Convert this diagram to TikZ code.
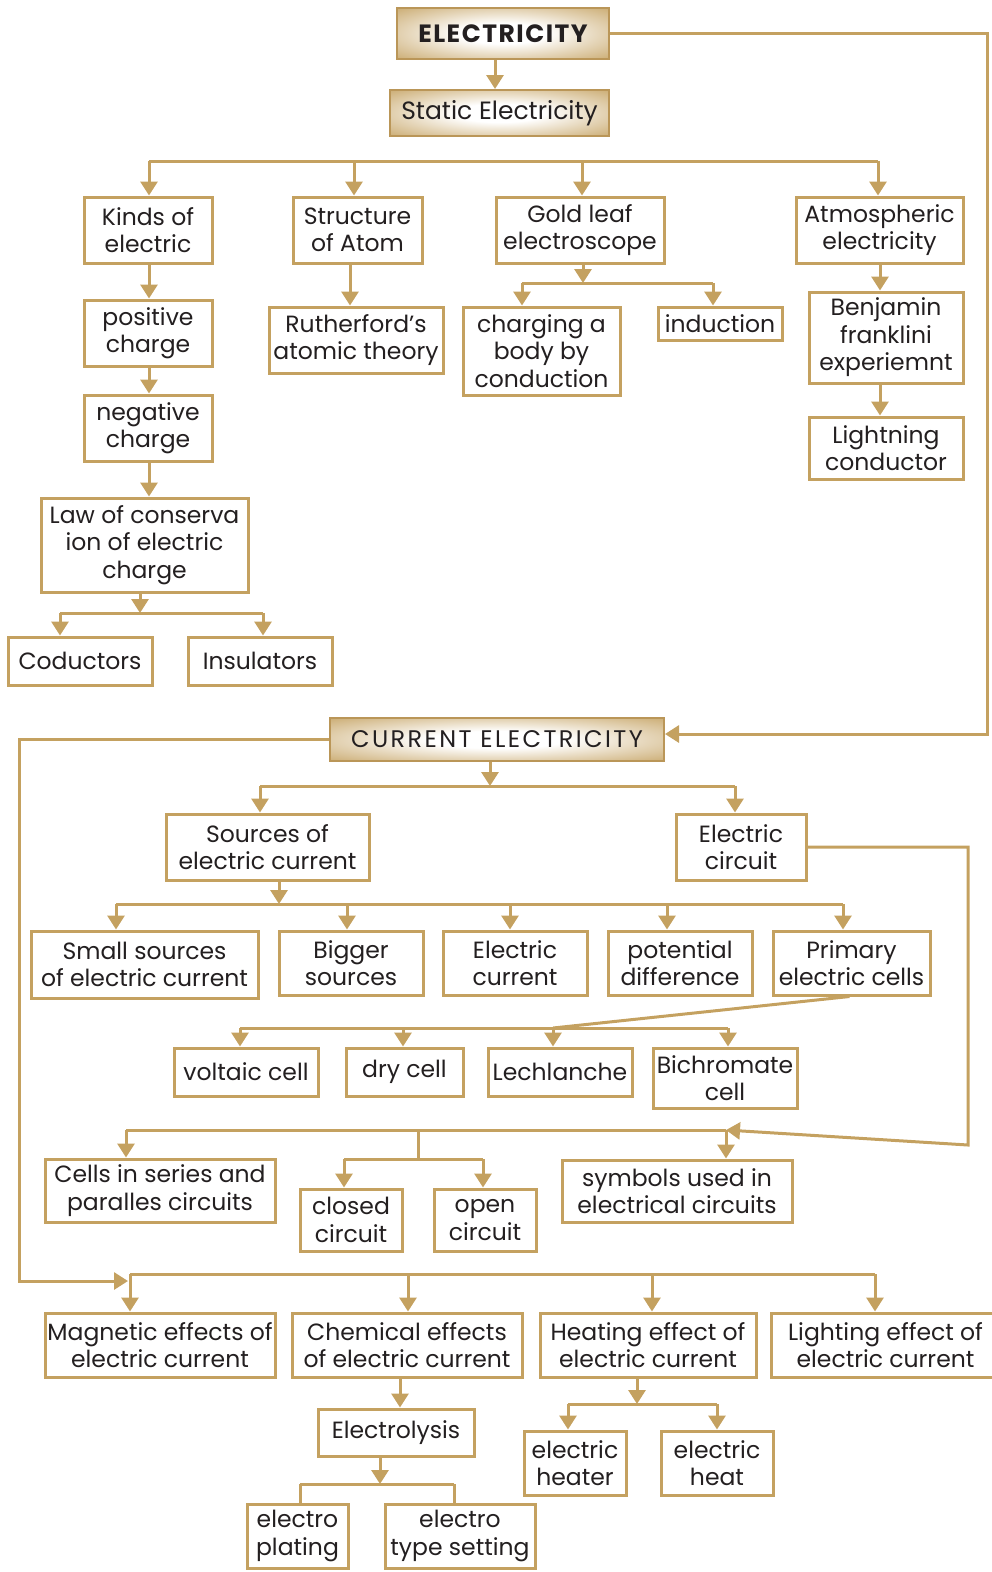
\documentclass[tikz,border=0pt]{standalone}
\usepackage{fontspec}
\setmainfont{Poppins}
\usetikzlibrary{arrows.meta}
\definecolor{gold}{RGB}{196,161,96}
\definecolor{golddk}{RGB}{186,150,88}
\definecolor{ink}{RGB}{35,31,32}
\pgfdeclareradialshading{hdrshade}{\pgfpoint{0bp}{0bp}}{color(0bp)=(white); color(10bp)=(white); color(23bp)=(gold!45); color(35bp)=(gold!85); color(45bp)=(gold); color(50bp)=(gold)}
\tikzset{
  box/.style={draw=gold, line width=3pt, fill=white, align=center, inner sep=0pt, text=ink,
    font=\fontsize{23.5}{27.5}\selectfont},
  hdr/.style={draw=golddk, line width=2pt, shading=hdrshade, align=center,
    inner sep=0pt, text=ink, font=\fontsize{25}{27}\selectfont},
  ln/.style={draw=gold, line width=3pt},
  arr/.style={ln, -{Triangle[width=17pt,length=14pt]}},
}
\begin{document}
\begin{tikzpicture}[x=1pt,y=-1pt]
\useasboundingbox (0,0) rectangle (992,1572);
% headers
\node[hdr, minimum width=212pt, minimum height=51pt, font=\fontsize{25}{27}\selectfont\bfseries\addfontfeature{LetterSpace=6}] (elec) at (503,33.5) {ELECTRICITY};
\node[hdr, minimum width=219pt, minimum height=46pt] (static) at (499.5,113) {Static Electricity};
\node[hdr, minimum width=334pt, minimum height=43pt, font=\fontsize{24}{27}\selectfont\addfontfeature{LetterSpace=10}] (current) at (497,739.5) {CURRENT ELECTRICITY};
% static part
\node[box, minimum width=128pt, minimum height=66pt] (kinds) at (148,230) {Kinds of\\electric};
\node[box, minimum width=129pt, minimum height=66pt] (struct) at (357.5,230) {Structure\\of Atom};
\node[box, minimum width=168pt, minimum height=66pt] (gold) at (580,230) {Gold leaf\\electroscope};
\node[box, minimum width=167pt, minimum height=66pt] (atmos) at (879.5,230) {Atmospheric\\electricity};
\node[box, minimum width=128pt, minimum height=66pt] (pos) at (148,333) {positive\\charge};
\node[box, minimum width=128pt, minimum height=66pt] (neg) at (148,428) {negative\\charge};
\node[box, minimum width=207pt, minimum height=94pt] (law) at (144.5,545) {Law of conserva\\ion of electric\\charge};
\node[box, minimum width=144pt, minimum height=48pt] (cond) at (80,661) {Coductors};
\node[box, minimum width=144pt, minimum height=48pt] (insul) at (260,661) {Insulators};
\node[box, minimum width=174pt, minimum height=66pt] (ruth) at (356,340) {Rutherford's\\atomic theory};
\node[box, minimum width=157pt, minimum height=88pt] (charg) at (541.5,351) {charging a\\body by\\conduction};
\node[box, minimum width=124pt, minimum height=33pt] (induc) at (720,323.5) {induction};
\node[box, minimum width=154pt, minimum height=91pt] (benj) at (886,337.5) {Benjamin\\franklini\\experiemnt};
\node[box, minimum width=154pt, minimum height=62pt] (light) at (886,448) {Lightning\\conductor};
% current part
\node[box, minimum width=203pt, minimum height=66pt] (sources) at (267.5,847) {Sources of\\electric current};
\node[box, minimum width=130pt, minimum height=66pt] (circuit) at (741,847) {Electric\\circuit};
\node[box, minimum width=227pt, minimum height=67pt] (small) at (144.5,964.5) {Small sources\\of electric current};
\node[box, minimum width=144pt, minimum height=64pt] (bigger) at (351,963) {Bigger\\sources};
\node[box, minimum width=144pt, minimum height=64pt] (ecurr) at (515,963) {Electric\\current};
\node[box, minimum width=144pt, minimum height=64pt] (pot) at (680,963) {potential\\difference};
\node[box, minimum width=157pt, minimum height=64pt] (prim) at (851.5,963) {Primary\\electric cells};
\node[box, minimum width=144pt, minimum height=48pt] (volt) at (246,1072) {voltaic cell};
\node[box, minimum width=117pt, minimum height=48pt] (dry) at (404.5,1072) {dry cell};
\node[box, minimum width=144pt, minimum height=48pt] (lech) at (560,1072) {Lechlanche};
\node[box, minimum width=144pt, minimum height=60pt] (bichr) at (725,1078) {Bichromate\\cell};
\node[box, minimum width=230pt, minimum height=63pt] (cells) at (160,1190.5) {Cells in series and\\paralles circuits};
\node[box, minimum width=102pt, minimum height=62pt] (closed) at (351,1220) {closed\\circuit};
\node[box, minimum width=102pt, minimum height=62pt] (open) at (485,1220) {open\\circuit};
\node[box, minimum width=230pt, minimum height=62pt] (symb) at (677,1191) {symbols used in\\electrical circuits};
\node[box, minimum width=230pt, minimum height=64pt] (magn) at (160,1345) {Magnetic effects of\\electric current};
\node[box, minimum width=230pt, minimum height=64pt] (chem) at (407,1345) {Chemical effects\\of electric current};
\node[box, minimum width=216pt, minimum height=64pt] (heat) at (648,1345) {Heating effect of\\electric current};
\node[box, minimum width=229pt, minimum height=64pt] (lighting) at (885.5,1345) {Lighting effect of\\electric current};
\node[box, minimum width=156pt, minimum height=47pt] (elys) at (396,1432.5) {Electrolysis};
\node[box, minimum width=101pt, minimum height=64pt] (plating) at (297.5,1536) {electro\\plating};
\node[box, minimum width=150pt, minimum height=64pt] (typeset) at (460,1536) {electro\\type setting};
\node[box, minimum width=102pt, minimum height=64pt] (heater) at (575,1463) {electric\\heater};
\node[box, minimum width=112pt, minimum height=64pt] (eheat) at (717,1463) {electric\\heat};
% ---------- connectors ----------
\coordinate (v0) at (495,0);
\draw[arr] (elec.south -| v0) -- (static.north -| v0);
\coordinate (h1a) at (149,161); \coordinate (h1b) at (878,161);
\coordinate (v1s) at (354,0); \coordinate (v1g) at (582,0);
\draw[ln] (h1a) -- (h1b);
\draw[arr] (h1a) -- (h1a |- kinds.north);
\draw[arr] (h1a -| v1s) -- (kinds.north -| v1s);
\draw[arr] (h1a -| v1g) -- (kinds.north -| v1g);
\draw[arr] (h1b) -- (h1b |- atmos.north);
\coordinate (vk) at (149,0);
\draw[arr] (kinds.south -| vk) -- (pos.north -| vk);
\draw[arr] (pos.south -| vk) -- (neg.north -| vk);
\draw[arr] (neg.south -| vk) -- (law.north -| vk);
\coordinate (h3) at (140,613); \coordinate (c1) at (60,613); \coordinate (c2) at (263,613);
\draw[arr] (law.south -| h3) -- (h3);
\draw[ln] (c1) -- (c2);
\draw[arr] (c1) -- (c1 |- cond.north);
\draw[arr] (c2) -- (c2 |- insul.north);
\coordinate (vs) at (350,0);
\draw[arr] (struct.south -| vs) -- (ruth.north -| vs);
\coordinate (h2) at (583,283); \coordinate (g1) at (522,283); \coordinate (g2) at (713,283);
\draw[arr] (gold.south -| h2) -- (h2);
\draw[ln] (g1) -- (g2);
\draw[arr] (g1) -- (g1 |- charg.north);
\draw[arr] (g2) -- (g2 |- induc.north);
\coordinate (va) at (880,0);
\draw[arr] (atmos.south -| va) -- (benj.north -| va);
\draw[arr] (benj.south -| va) -- (light.north -| va);
% loops
\coordinate (r1) at (987,0); \coordinate (ce) at (0,734);
\draw[arr] (elec.east) -| (r1 |- ce) -- (current.east |- ce);
\coordinate (l1) at (19,0); \coordinate (m0) at (128,1281);
\draw[arr] (current.west) -| (l1 |- m0) -- (m0);
% current tree
\coordinate (h4) at (490,786); \coordinate (s1) at (260,786); \coordinate (s2) at (735,786);
\draw[arr] (current.south -| h4) -- (h4);
\draw[ln] (s1) -- (s2);
\draw[arr] (s1) -- (s1 |- sources.north);
\draw[arr] (s2) -- (s2 |- circuit.north);
\coordinate (h5) at (279,904);
\coordinate (p1) at (116,904); \coordinate (p2) at (347,904); \coordinate (p3) at (510,904);
\coordinate (p4) at (667,904); \coordinate (p5) at (843,904);
\draw[arr] (sources.south -| h5) -- (h5);
\draw[ln] (p1) -- (p5);
\draw[arr] (p1) -- (p1 |- small.north);
\draw[arr] (p2) -- (p2 |- bigger.north);
\draw[arr] (p3) -- (p3 |- ecurr.north);
\draw[arr] (p4) -- (p4 |- pot.north);
\draw[arr] (p5) -- (p5 |- prim.north);
\coordinate (q1) at (240,1028); \coordinate (q2) at (403,1028); \coordinate (q3) at (553,1028); \coordinate (q4) at (728,1028);
\draw[ln] ([xshift=-2pt]prim.south) -- (q3);
\draw[ln] (q1) -- (q4);
\draw[arr] (q1) -- (q1 |- volt.north);
\draw[arr] (q2) -- (q2 |- dry.north);
\draw[arr] (q3) -- (q3 |- lech.north);
\draw[arr] (q4) -- (q4 |- bichr.north);
\coordinate (r2) at (968,1145); \coordinate (k1) at (126,1130); \coordinate (k4) at (726,1130);
\coordinate (k2) at (418,1130); \coordinate (k3) at (418,1159);
\coordinate (o1) at (344,1159); \coordinate (o2) at (483,1159);
\draw[arr] (circuit.east) -| (r2) -- (k4);
\draw[ln] (k1) -- (k4);
\draw[arr] (k1) -- (k1 |- cells.north);
\draw[arr] (k4) -- (k4 |- symb.north);
\draw[ln] (k2) -- (k3);
\draw[ln] (o1) -- (o2);
\draw[arr] (o1) -- (o1 |- closed.north);
\draw[arr] (o2) -- (o2 |- open.north);
\coordinate (b1) at (130,1274); \coordinate (b2) at (408,1274); \coordinate (b3) at (652,1274); \coordinate (b4) at (875,1274);
\draw[ln] (b1) -- (b4);
\draw[arr] (b1) -- (b1 |- magn.north);
\draw[arr] (b2) -- (b2 |- chem.north);
\draw[arr] (b3) -- (b3 |- heat.north);
\draw[arr] (b4) -- (b4 |- lighting.north);
\coordinate (ve) at (400,0);
\draw[arr] (chem.south -| ve) -- (elys.north -| ve);
\coordinate (e0) at (380,1484); \coordinate (e1) at (300,1484); \coordinate (e2) at (454,1484);
\draw[arr] (elys.south -| e0) -- (e0);
\draw[ln] (e1) -- (e2);
\draw[ln] (e1) -- (e1 |- plating.north);
\draw[ln] (e2) -- (e2 |- typeset.north);
\coordinate (t0) at (637,1404); \coordinate (t1) at (568,1404); \coordinate (t2) at (717,1404);
\draw[arr] (heat.south -| t0) -- (t0);
\draw[ln] (t1) -- (t2);
\draw[arr] (t1) -- (t1 |- heater.north);
\draw[arr] (t2) -- (t2 |- eheat.north);
\end{tikzpicture}
\end{document}
